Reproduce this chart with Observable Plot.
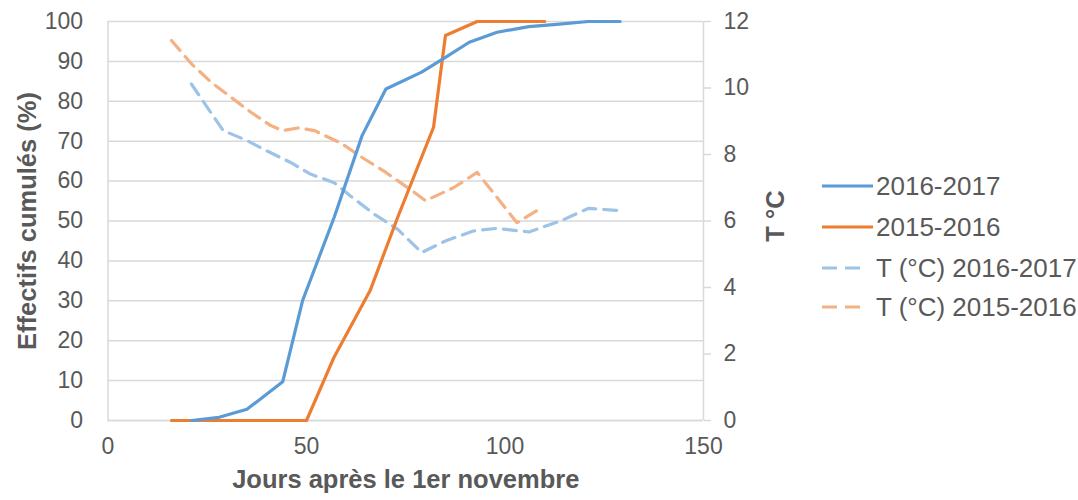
<!DOCTYPE html>
<html><head><meta charset="utf-8">
<script src="https://cdn.jsdelivr.net/npm/d3@7"></script>
<script src="https://cdn.jsdelivr.net/npm/@observablehq/plot@0.6"></script>
<style>
body{margin:0;background:#fff;font-family:"Liberation Sans",Arial,sans-serif;}
#wrap{position:relative;width:1078px;height:500px;overflow:hidden;}
#legend{position:absolute;left:0;top:0;}
</style></head><body><div id="wrap"></div>
<script>
// Cumulative counts (%) vs days after 1 November
const days2016 = [21, 28, 35, 44, 49, 57, 64, 70, 79, 85, 91, 98, 106, 113, 121, 129];
const eff2016  = [0, 0.8, 2.8, 9.7, 30, 51, 71.4, 83.1, 87.3, 91, 94.8, 97.3, 98.7, 99.3, 100, 100];
const days2015 = [16, 50, 57, 66, 73, 82, 85, 93, 101, 110];
const eff2015  = [0, 0, 16, 32.5, 51, 73.5, 96.5, 100, 100, 100];
// Temperatures (°C)
const tDays2016 = [21, 29, 35, 40, 46, 51, 57, 61, 67, 73, 79, 85, 92, 98, 106, 114, 121, 129];
const temp2016  = [10.12, 8.72, 8.42, 8.11, 7.76, 7.41, 7.15, 6.76, 6.21, 5.75, 5.05, 5.4, 5.7, 5.78, 5.67, 6.0, 6.38, 6.31];
const tDays2015 = [16, 21, 26, 31, 36, 41, 44, 48, 52, 59, 64, 70, 76, 80, 87, 93, 103, 108];
const temp2015  = [11.43, 10.73, 10.17, 9.72, 9.27, 8.87, 8.72, 8.8, 8.72, 8.32, 7.91, 7.46, 6.96, 6.61, 7.0, 7.46, 5.95, 6.31];
// Axes
const xTicks = [0, 50, 100, 150];
const yTicks = [0, 10, 20, 30, 40, 50, 60, 70, 80, 90, 100];
const tTicks = [0, 2, 4, 6, 8, 10, 12];
const tMax = 12;
const seriesNames = ["2016-2017", "2015-2016", "T (°C) 2016-2017", "T (°C) 2015-2016"];
const colors = ["#5B9BD5", "#ED7D31", "#9DC3E6", "#F4B183"];

const toY = t => t * 100 / tMax;
const s2016 = days2016.map((d, i) => ({x: d, y: eff2016[i]}));
const s2015 = days2015.map((d, i) => ({x: d, y: eff2015[i]}));
const st2016 = tDays2016.map((d, i) => ({x: d, y: toY(temp2016[i])}));
const st2015 = tDays2015.map((d, i) => ({x: d, y: toY(temp2015[i])}));

const grey = "#d9d9d9", txt = "#595959";
const chart = Plot.plot({
  width: 1078, height: 500,
  marginLeft: 107.5, marginRight: 375, marginTop: 21, marginBottom: 80,
  x: {domain: [0, 150]},
  y: {domain: [0, 100]},
  style: {fontFamily: "'Liberation Sans', Arial, sans-serif", fontSize: "23px", color: txt, background: "#fff", overflow: "visible"},
  marks: [
    Plot.gridY(yTicks, {stroke: grey, strokeOpacity: 1, strokeWidth: 1.5}),
    Plot.ruleX([0, 150], {stroke: grey, strokeWidth: 1.5}),
    Plot.ruleY([0], {stroke: grey, strokeWidth: 1.5}),
    Plot.axisY(yTicks, {anchor: "left", tickSize: 0, tickPadding: 25, label: null, fill: txt}),
    Plot.axisY(tTicks.map(toY), {anchor: "right", tickSize: 7, tickPadding: 13, stroke: grey, strokeWidth: 1.5, fill: txt, label: null,
      tickFormat: d => String(Math.round(d * tMax / 100))}),
    Plot.axisX(xTicks, {tickSize: 0, tickPadding: 17, label: null, fill: txt}),
    Plot.text(["Effectifs cumulés (%)"], {frameAnchor: "left", dx: -80, rotate: -90, textAnchor: "middle", fontWeight: "bold", fontSize: 25.5, fill: txt}),
    Plot.text(["Jours après le 1er novembre"], {frameAnchor: "bottom", dy: 67, textAnchor: "middle", fontWeight: "bold", fontSize: 25.5, fill: txt}),
    Plot.text(["T °C"], {frameAnchor: "right", dx: 72, dy: -5, rotate: -90, textAnchor: "middle", fontWeight: "bold", fontSize: 25.5, fill: txt}),
    Plot.line(st2016, {x: "x", y: "y", stroke: colors[2], strokeWidth: 3.2, strokeDasharray: "13,8", strokeLinejoin: "round"}),
    Plot.line(st2015, {x: "x", y: "y", stroke: colors[3], strokeWidth: 3.2, strokeDasharray: "13,8", strokeLinejoin: "round"}),
    Plot.line(s2015, {x: "x", y: "y", stroke: colors[1], strokeWidth: 3.2, strokeLinejoin: "round"}),
    Plot.line(s2016, {x: "x", y: "y", stroke: colors[0], strokeWidth: 3.2, strokeLinejoin: "round"})
  ]
});
const wrap = document.getElementById("wrap");
wrap.appendChild(chart);

// Legend
const ns = "http://www.w3.org/2000/svg";
const leg = document.createElementNS(ns, "svg");
leg.setAttribute("id", "legend");
leg.setAttribute("width", 1078); leg.setAttribute("height", 500);
leg.style.pointerEvents = "none";
const rowY = [186, 227, 268, 307];
seriesNames.forEach((name, i) => {
  const l = document.createElementNS(ns, "line");
  l.setAttribute("x1", 822); l.setAttribute("x2", i < 2 ? 873 : 861);
  l.setAttribute("y1", rowY[i]); l.setAttribute("y2", rowY[i]);
  l.setAttribute("stroke", colors[i]); l.setAttribute("stroke-width", 3.2);
  if (i >= 2) l.setAttribute("stroke-dasharray", "15,8");
  leg.appendChild(l);
  const t = document.createElementNS(ns, "text");
  t.setAttribute("x", 876); t.setAttribute("y", rowY[i]);
  t.setAttribute("dy", "0.35em");
  t.setAttribute("fill", txt);
  t.setAttribute("font-size", 26);
  t.setAttribute("font-family", "'Liberation Sans', Arial, sans-serif");
  t.textContent = name;
  leg.appendChild(t);
});
wrap.appendChild(leg);
</script>
</body></html>
